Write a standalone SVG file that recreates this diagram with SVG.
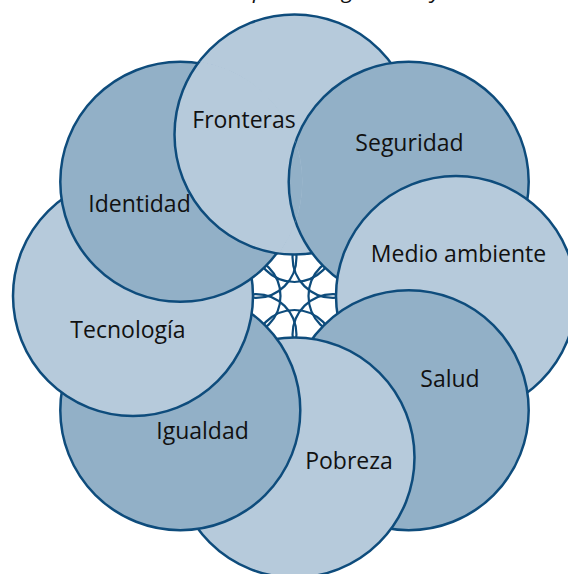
<svg xmlns="http://www.w3.org/2000/svg" width="568" height="574" viewBox="0 0 568 574">
  <style>
    .big { stroke: #0e4c7c; stroke-width: 2.5; }
    .light { fill: #b6cadb; }
    .dark { fill: #92b0c7; }
    .hub circle { fill: none; stroke: #0e4c7c; stroke-width: 2.2; }
    .label { font-family: "Open Sans", "Noto Sans", sans-serif; font-size: 23px; fill: #111; text-anchor: middle; }
    .title { font-family: "Open Sans", "Noto Sans", sans-serif; font-size: 22px; font-style: italic; fill: #111; }
  </style>
  <defs>
    <clipPath id="clipIdentidad"><circle cx="180.3" cy="181.8" r="122"/></clipPath>
  </defs>
  <rect width="568" height="574" fill="#ffffff"/>
  <text class="title" y="-2"><tspan x="253">p</tspan><tspan x="342">g</tspan><tspan x="431">y</tspan></text>

  <g id="hub" class="hub">
    <circle cx="294.5" cy="241.5" r="40.5"/>
    <circle cx="333.04" cy="257.46" r="40.5"/>
    <circle cx="349" cy="296" r="40.5"/>
    <circle cx="333.04" cy="334.54" r="40.5"/>
    <circle cx="294.5" cy="350.5" r="40.5"/>
    <circle cx="255.96" cy="334.54" r="40.5"/>
    <circle cx="240" cy="296" r="40.5"/>
    <circle cx="255.96" cy="257.46" r="40.5"/>
  </g>

  <g id="fronteras"><circle class="big light" cx="294.5" cy="134.5" r="120"/></g>
  <g id="seguridad"><circle class="big dark" cx="408.7" cy="181.8" r="120"/></g>
  <g id="medio-ambiente"><circle class="big light" cx="456" cy="296" r="120"/></g>
  <g id="salud"><circle class="big dark" cx="408.7" cy="410.2" r="120"/></g>
  <g id="pobreza"><circle class="big light" cx="294.5" cy="457.5" r="120"/></g>
  <g id="igualdad"><circle class="big dark" cx="180.3" cy="410.2" r="120"/></g>
  <g id="tecnologia"><circle class="big light" cx="133" cy="296" r="120"/></g>
  <g id="identidad"><circle class="big dark" cx="180.3" cy="181.8" r="120"/></g>
  <g id="overlap-fix" clip-path="url(#clipIdentidad)">
    <circle class="big light" cx="294.5" cy="134.5" r="120"/>
    <circle class="big dark" cx="408.7" cy="181.8" r="120"/>
  </g>

  <g id="labels">
    <text class="label" x="244" y="128">Fronteras</text>
    <text class="label" x="409.5" y="151">Seguridad</text>
    <text class="label" x="458.5" y="262">Medio ambiente</text>
    <text class="label" x="450" y="387">Salud</text>
    <text class="label" x="349" y="469">Pobreza</text>
    <text class="label" x="202.5" y="439">Igualdad</text>
    <text class="label" x="128" y="338">Tecnología</text>
    <text class="label" x="139.5" y="212">Identidad</text>
  </g>
  <g id="connectors"/>
</svg>
